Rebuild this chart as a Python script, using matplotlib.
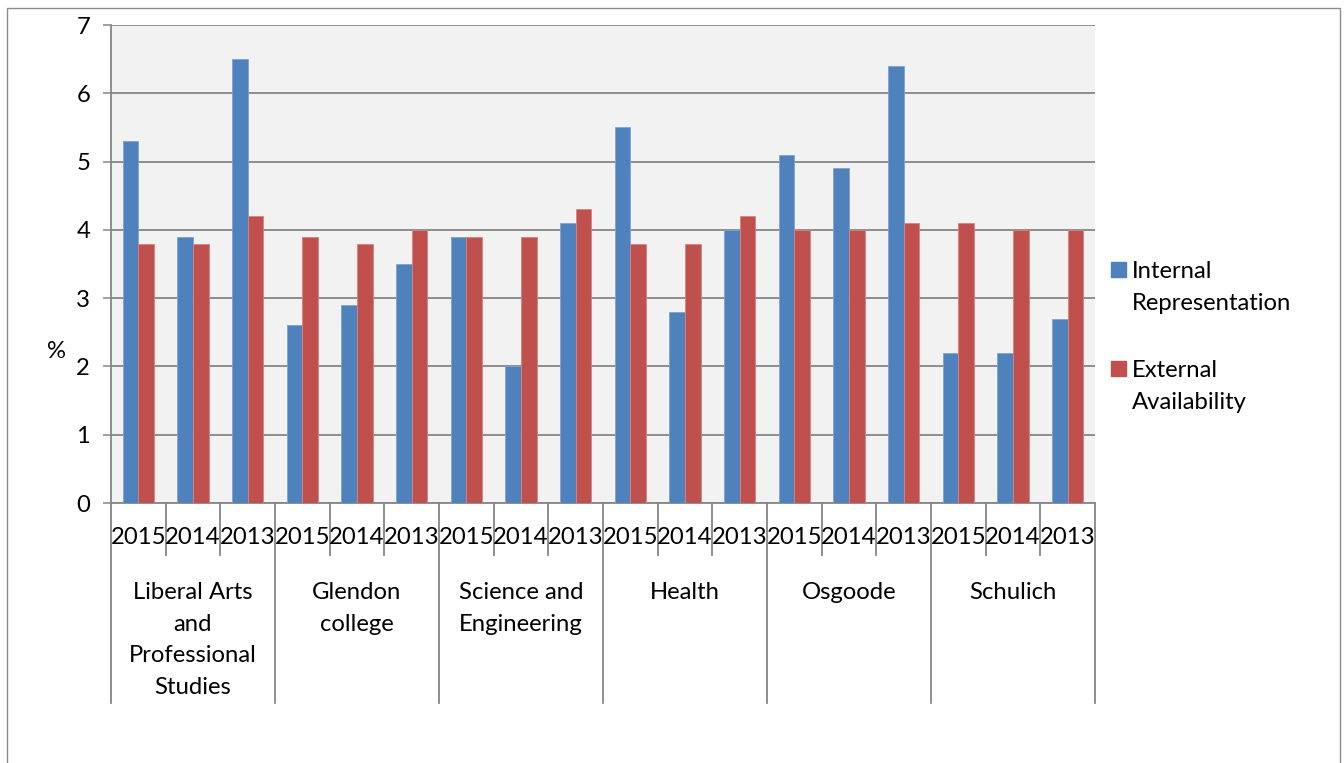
import matplotlib.pyplot as plt
import matplotlib.transforms as mtransforms
from matplotlib.patches import Rectangle
import numpy as np

plt.rcParams['font.family'] = ['Lato', 'DejaVu Sans']

# data
groups = ['Liberal Arts\nand\nProfessional\nStudies', 'Glendon\ncollege',
          'Science and\nEngineering', 'Health', 'Osgoode', 'Schulich']
years = ['2015', '2014', '2013']
internal = [5.3, 3.9, 6.5, 2.6, 2.9, 3.5, 3.9, 2.0, 4.1,
            5.5, 2.8, 4.0, 5.1, 4.9, 6.4, 2.2, 2.2, 2.7]
external = [3.8, 3.8, 4.2, 3.9, 3.8, 4.0, 3.9, 3.9, 4.3,
            3.8, 3.8, 4.2, 4.0, 4.0, 4.1, 4.1, 4.0, 4.0]
series_names = ['Internal\nRepresentation', 'External\nAvailability']

blue = '#4F81BD'
red = '#C0504D'
grid_col = '#868686'
fs = 17.2
lsp = 1.62

fig = plt.figure(figsize=(13.44, 7.63), dpi=100)
ax = fig.add_axes([111 / 1344, 1 - 503 / 763, 984 / 1344, 478 / 763])
ax.set_facecolor('#F2F2F2')

n = len(internal)
x = np.arange(n)
w = 0.2857
ax.bar(x - w / 2, internal, w, color=blue, edgecolor='#7FA3D3', linewidth=0.6, zorder=3)
ax.bar(x + w / 2, external, w, color=red, edgecolor='#D98380', linewidth=0.6, zorder=3)

ax.set_xlim(-0.5, n - 0.5)
ax.set_ylim(0, 7)
ax.set_yticks(range(8))
ax.yaxis.grid(True, color=grid_col, linewidth=1.3, zorder=1)
ax.tick_params(axis='y', length=6, width=1.1, color=grid_col, pad=9, labelsize=fs)
ax.set_xticks([])
for s in ['top', 'right']:
    ax.spines[s].set_visible(False)
for s in ['left', 'bottom']:
    ax.spines[s].set_color(grid_col)
    ax.spines[s].set_linewidth(1.3)

# multi-level category axis
trans = mtransforms.blended_transform_factory(ax.transData, ax.transAxes)
yr_bottom = -52 / 478
grp_bottom = -200 / 478
for i in range(n + 1):
    b = i - 0.5
    low = grp_bottom if i % 3 == 0 else yr_bottom
    ax.plot([b, b], [0, low], transform=trans, color=grid_col, linewidth=1.3, clip_on=False)
for i in range(n):
    ax.text(i, -35 / 478, years[i % 3], transform=trans, ha='center', va='center',
            fontsize=fs)
for g, name in enumerate(groups):
    ax.text(3 * g + 1, -79 / 478, name, transform=trans, ha='center', va='top',
            fontsize=fs, linespacing=lsp)

fig.text(56 / 1344, 1 - 352 / 763, '%', ha='center', va='center', fontsize=fs)

# legend (baseline of the last line)
for k, (name, col) in enumerate(zip(series_names, [blue, red])):
    top = 262 + k * 99
    fig.patches.append(Rectangle((1111 / 1344, 1 - (top + 15) / 763), 15 / 1344, 15 / 763,
                                 transform=fig.transFigure, color=col))
    fig.text(1132 / 1344, 1 - (top + 48) / 763, name, ha='left', va='baseline',
             fontsize=fs, linespacing=lsp)

# chart border
fig.patches.append(Rectangle((7 / 1344, -0.02), 1333 / 1344, 1.02 - 8 / 763,
                             transform=fig.transFigure, fill=False,
                             edgecolor='#8C8C8C', linewidth=1))

fig.savefig('out.png', dpi=100)
